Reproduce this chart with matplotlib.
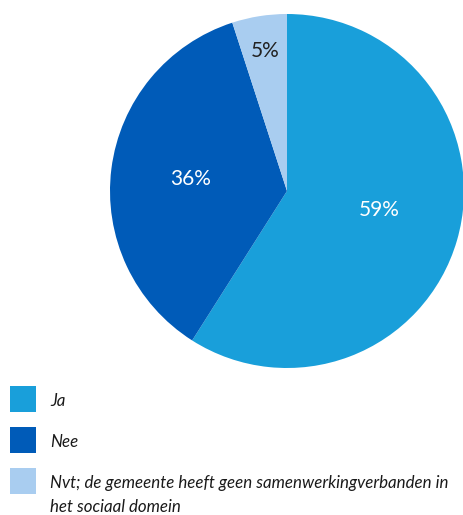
import numpy as np
import matplotlib.pyplot as plt
from matplotlib.patches import Rectangle

labels = ['Ja', 'Nee', 'Nvt; de gemeente heeft geen samenwerkingverbanden in\nhet sociaal domein']
values = [59, 36, 5]
colors = ['#199fda', '#005bb8', '#a9cdf0']
label_colors = ['white', 'white', '#222222']
label_dist = [0.54, 0.55, 0.8]
label_nudge = [0.045, 0.0, 0.0]

W, H = 464, 515
fig = plt.figure(figsize=(W / 100, H / 100), dpi=100)
plt.rcParams['font.family'] = ['Lato', 'DejaVu Sans']

# pie occupies the upper right part
cx, cy, r = 287, 191, 177
ax = fig.add_axes([(cx - r) / W, 1 - (cy + r) / H, 2 * r / W, 2 * r / H])
wedges, _ = ax.pie(values, colors=colors, startangle=90, counterclock=False,
                   wedgeprops=dict(linewidth=0))
ax.set_xlim(-1, 1)
ax.set_ylim(-1, 1)
ax.set_aspect('equal')

for w, v, c, d, n in zip(wedges, values, label_colors, label_dist, label_nudge):
    ang = np.deg2rad((w.theta1 + w.theta2) / 2)
    ax.text(d * np.cos(ang), d * np.sin(ang) + n, f'{v}%', color=c,
            ha='center', va='center', fontsize=15)

# legend drawn by hand
ys = [386, 427, 468]
for y, lab, col in zip(ys, labels, colors):
    fig.add_artist(Rectangle((10 / W, 1 - (y + 26) / H), 26 / W, 26 / H,
                             transform=fig.transFigure, color=col, lw=0))
    fig.text(50 / W, 1 - (y + 7) / H, lab, ha='left', va='top', style='italic',
             fontsize=12.2, color='#1a1a1a', linespacing=1.65)

fig.savefig('out.png', dpi=100)
